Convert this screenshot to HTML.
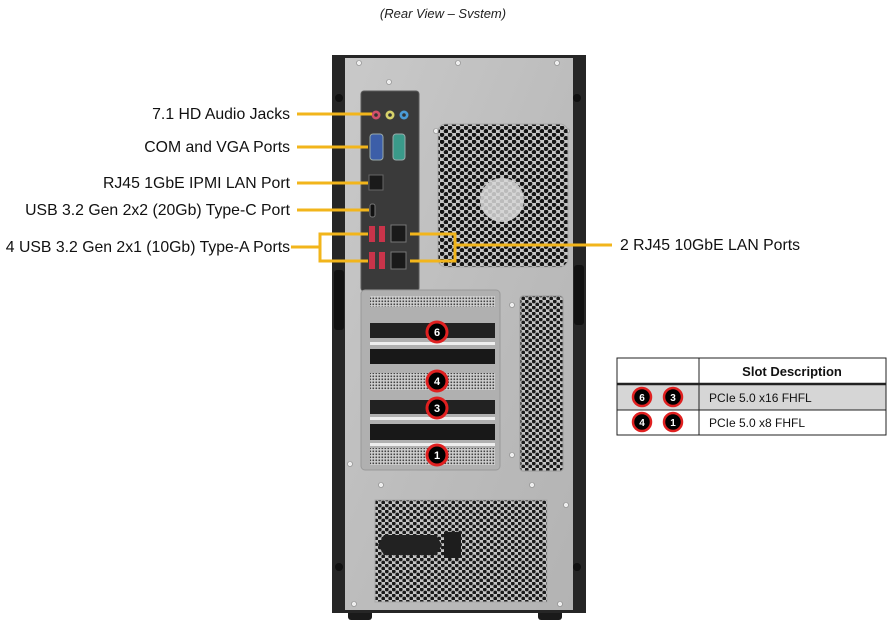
<!DOCTYPE html>
<html><head><meta charset="utf-8"><style>
html,body{margin:0;padding:0;background:#fff;}
svg{display:block;font-family:"Liberation Sans",Arial,sans-serif;}
</style></head><body>
<svg width="895" height="633" viewBox="0 0 895 633" xmlns="http://www.w3.org/2000/svg">
<defs>
<pattern id="hex" width="8" height="7" patternUnits="userSpaceOnUse">
<rect width="8" height="7" fill="#c4c4c4"/>
<circle cx="2" cy="1.75" r="2.3" fill="#151515"/>
<circle cx="6" cy="5.25" r="2.3" fill="#151515"/>
</pattern>
<pattern id="hexs" width="7" height="6" patternUnits="userSpaceOnUse">
<rect width="7" height="6" fill="#c4c4c4"/>
<circle cx="1.75" cy="1.5" r="1.9" fill="#1a1a1a"/>
<circle cx="5.25" cy="4.5" r="1.9" fill="#1a1a1a"/>
</pattern>
<pattern id="mesh" width="3" height="3" patternUnits="userSpaceOnUse">
<rect width="3" height="3" fill="#d0d0d0"/>
<rect x="0.5" y="0.5" width="1.6" height="1.6" fill="#444"/>
</pattern>
<linearGradient id="silver" x1="0" y1="0" x2="1" y2="1">
<stop offset="0" stop-color="#c9c9c9"/><stop offset="0.5" stop-color="#bdbdbd"/><stop offset="1" stop-color="#b3b3b3"/>
</linearGradient>
</defs>

<text x="443" y="18" font-size="13" font-style="italic" text-anchor="middle" fill="#222">(Rear View – Svstem)</text>

<rect x="348" y="606" width="24" height="14" rx="3" fill="#1a1a1a"/>
<rect x="538" y="606" width="24" height="14" rx="3" fill="#1a1a1a"/>
<rect x="332" y="55" width="254" height="558" fill="#262626"/>
<rect x="345" y="58" width="228" height="552" fill="url(#silver)"/>
<rect x="334" y="270" width="10" height="60" rx="3" fill="#111"/>
<rect x="574" y="265" width="10" height="60" rx="3" fill="#111"/>
<circle cx="339" cy="98" r="4" fill="#111"/><circle cx="577" cy="98" r="4" fill="#111"/>
<circle cx="339" cy="567" r="4" fill="#111"/><circle cx="577" cy="567" r="4" fill="#111"/>
<g fill="#eee" stroke="#888" stroke-width="0.6">
<circle cx="359" cy="63" r="2.5"/><circle cx="458" cy="63" r="2.5"/><circle cx="557" cy="63" r="2.5"/>
<circle cx="389" cy="82" r="2.5"/><circle cx="436" cy="131" r="2.5"/><circle cx="567" cy="131" r="2.5"/>
<circle cx="512" cy="305" r="2.5"/><circle cx="512" cy="455" r="2.5"/><circle cx="350" cy="464" r="2.5"/>
<circle cx="381" cy="485" r="2.5"/><circle cx="532" cy="485" r="2.5"/><circle cx="566" cy="505" r="2.5"/>
<circle cx="354" cy="604" r="2.5"/><circle cx="560" cy="604" r="2.5"/>
</g>

<rect x="361" y="91" width="58" height="200" rx="3" fill="#3a3a3a" stroke="#5a5a5a"/>
<circle cx="376" cy="115" r="4.5" fill="#d0506a"/><circle cx="376" cy="115" r="1.8" fill="#333"/>
<circle cx="390" cy="115" r="4.5" fill="#d7d26a"/><circle cx="390" cy="115" r="1.8" fill="#333"/>
<circle cx="404" cy="115" r="4.5" fill="#4a9bd6"/><circle cx="404" cy="115" r="1.8" fill="#333"/>
<rect x="370" y="134" width="13" height="26" rx="3" fill="#3c5ea8" stroke="#9aa" stroke-width="1"/>
<rect x="393" y="134" width="12" height="26" rx="3" fill="#3a9a8a" stroke="#9aa" stroke-width="1"/>
<rect x="369" y="175" width="14" height="15" fill="#1a1a1a" stroke="#666"/>
<rect x="370" y="204" width="5" height="13" rx="2" fill="#111" stroke="#777"/>
<rect x="369" y="226" width="6" height="16" fill="#c9344a"/><rect x="379" y="226" width="6" height="16" fill="#c9344a"/>
<rect x="369" y="252" width="6" height="17" fill="#c9344a"/><rect x="379" y="252" width="6" height="17" fill="#c9344a"/>
<rect x="391" y="225" width="15" height="17" fill="#1a1a1a" stroke="#777"/>
<rect x="391" y="252" width="15" height="17" fill="#1a1a1a" stroke="#777"/>

<rect x="438" y="124" width="130" height="143" rx="8" fill="url(#hex)" stroke="#aaa"/>
<circle cx="502" cy="200" r="22" fill="#d8d8d8" opacity="0.85"/>

<rect x="361" y="290" width="139" height="180" rx="4" fill="#b0b0b0" stroke="#999"/>
<rect x="370" y="296" width="125" height="11" fill="url(#mesh)"/>
<rect x="370" y="323" width="125" height="15" fill="#222"/>
<rect x="370" y="349" width="125" height="15" fill="#181818"/>
<rect x="370" y="373" width="125" height="17" fill="url(#mesh)"/>
<rect x="370" y="400" width="125" height="14" fill="#222"/>
<rect x="370" y="424" width="125" height="16" fill="#181818"/>
<rect x="370" y="448" width="125" height="17" fill="url(#mesh)"/>
<rect x="370" y="342" width="125" height="3" fill="#eee"/>
<rect x="370" y="417" width="125" height="3" fill="#eee"/>
<rect x="370" y="443" width="125" height="3" fill="#eee"/>

<rect x="520" y="296" width="43" height="175" rx="3" fill="url(#hexs)" stroke="#999"/>

<rect x="375" y="500" width="172" height="102" fill="url(#hexs)" stroke="#aaa"/>
<path d="M384 535 h52 l6 10 l-6 10 h-52 l-6 -10 z" fill="#222"/>
<rect x="444" y="532" width="17" height="26" fill="#1d1d1d"/>

<g font-size="11" font-weight="bold" fill="#fff" text-anchor="middle">
<g><circle cx="437" cy="332" r="10" fill="#000" stroke="#e02020" stroke-width="3"/><text x="437" y="336">6</text></g>
<g><circle cx="437" cy="381" r="10" fill="#000" stroke="#e02020" stroke-width="3"/><text x="437" y="385">4</text></g>
<g><circle cx="437" cy="408" r="10" fill="#000" stroke="#e02020" stroke-width="3"/><text x="437" y="412">3</text></g>
<g><circle cx="437" cy="455" r="10" fill="#000" stroke="#e02020" stroke-width="3"/><text x="437" y="459">1</text></g>
</g>

<g stroke="#f2b51b" stroke-width="3" fill="none">
<line x1="297" y1="114" x2="372" y2="114"/>
<line x1="297" y1="147" x2="368" y2="147"/>
<line x1="297" y1="183" x2="368" y2="183"/>
<line x1="297" y1="210" x2="369" y2="210"/>
<line x1="291" y1="247" x2="320" y2="247"/>
<polyline points="368,234 320,234 320,261 368,261"/>
<polyline points="410,234 455,234 455,261 410,261"/>
<line x1="455" y1="245" x2="612" y2="245"/>
</g>

<g font-size="15.8" fill="#111" text-anchor="end">
<text x="290" y="119">7.1 HD Audio Jacks</text>
<text x="290" y="152">COM and VGA Ports</text>
<text x="290" y="188">RJ45 1GbE IPMI LAN Port</text>
<text x="290" y="215">USB 3.2 Gen 2x2 (20Gb) Type-C Port</text>
<text x="290" y="252">4 USB 3.2 Gen 2x1 (10Gb) Type-A Ports</text>
</g>
<text x="620" y="250" font-size="15.8" fill="#111">2 RJ45 10GbE LAN Ports</text>

<rect x="617" y="384" width="269" height="26" fill="#d6d6d6"/>
<g stroke="#222" fill="none">
<rect x="617" y="358" width="269" height="77" stroke-width="1"/>
<line x1="617" y1="384" x2="886" y2="384" stroke-width="2.5"/>
<line x1="617" y1="410" x2="886" y2="410"/>
<line x1="699" y1="358" x2="699" y2="435"/>
</g>
<text x="792" y="376" font-size="13" font-weight="bold" text-anchor="middle" fill="#111">Slot Description</text>
<text x="709" y="402" font-size="12" fill="#111">PCIe 5.0 x16 FHFL</text>
<text x="709" y="427" font-size="12" fill="#111">PCIe 5.0 x8 FHFL</text>
<g font-size="10" font-weight="bold" fill="#fff" text-anchor="middle">
<circle cx="642" cy="397" r="9" fill="#000" stroke="#e02020" stroke-width="2.5"/><text x="642" y="401">6</text>
<circle cx="673" cy="397" r="9" fill="#000" stroke="#e02020" stroke-width="2.5"/><text x="673" y="401">3</text>
<circle cx="642" cy="422" r="9" fill="#000" stroke="#e02020" stroke-width="2.5"/><text x="642" y="426">4</text>
<circle cx="673" cy="422" r="9" fill="#000" stroke="#e02020" stroke-width="2.5"/><text x="673" y="426">1</text>
</g>
</svg>
</body></html>
